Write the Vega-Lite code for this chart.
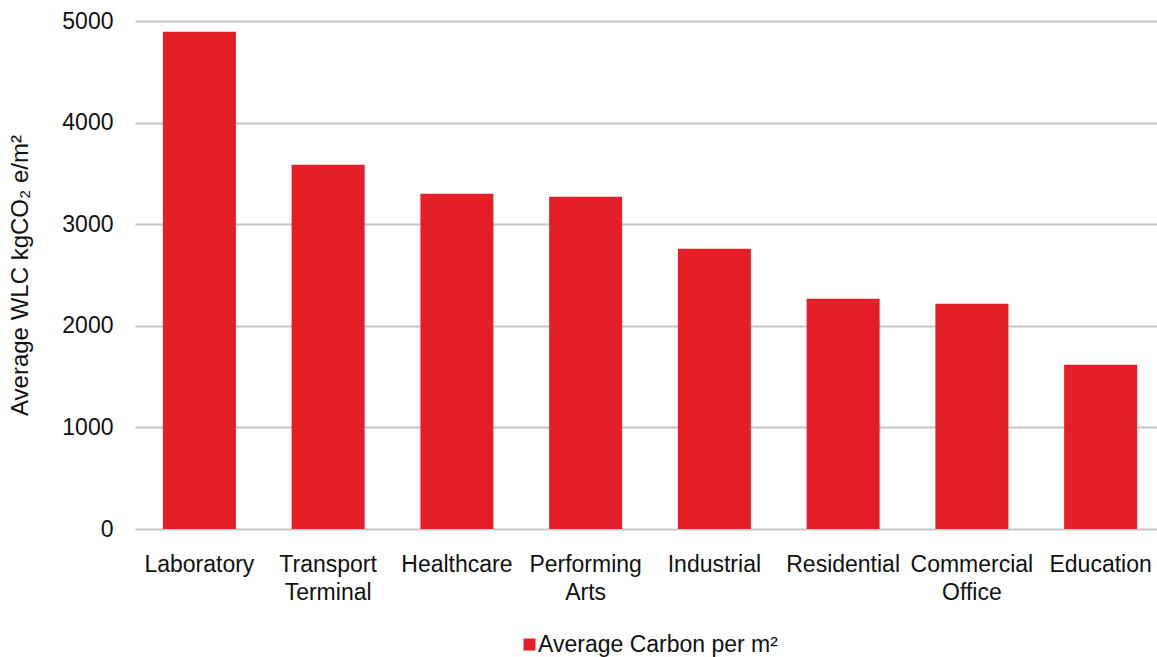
{
  "$schema": "https://vega.github.io/schema/vega-lite/v6.json",
  "width": 1022,
  "height": 508,
  "autosize": {"type": "none"},
  "padding": {"left": 135, "top": 21, "right": 0, "bottom": 128},
  "background": "white",
  "config": {
    "font": "Liberation Sans",
    "view": {"stroke": null}
  },
  "data": {
    "values": [
      {"category": "Laboratory", "value": 4894, "series": "Average Carbon per m²"},
      {"category": "Transport Terminal", "value": 3586, "series": "Average Carbon per m²"},
      {"category": "Healthcare", "value": 3300, "series": "Average Carbon per m²"},
      {"category": "Performing Arts", "value": 3271, "series": "Average Carbon per m²"},
      {"category": "Industrial", "value": 2759, "series": "Average Carbon per m²"},
      {"category": "Residential", "value": 2266, "series": "Average Carbon per m²"},
      {"category": "Commercial Office", "value": 2217, "series": "Average Carbon per m²"},
      {"category": "Education", "value": 1616, "series": "Average Carbon per m²"}
    ]
  },
  "mark": {"type": "bar"},
  "encoding": {
    "x": {
      "field": "category",
      "type": "nominal",
      "sort": null,
      "scale": {"range": [0, 1030], "paddingInner": 0.433, "paddingOuter": 0.2165},
      "axis": {
        "title": null,
        "labelAngle": 0,
        "labelFontSize": 23,
        "labelColor": "#111111",
        "labelPadding": 24,
        "labelLineHeight": 28,
        "labelLimit": 0,
        "labelExpr": "split(datum.label, ' ')",
        "ticks": false,
        "domain": false,
        "grid": false
      }
    },
    "y": {
      "field": "value",
      "type": "quantitative",
      "scale": {"domain": [0, 5000], "nice": false},
      "axis": {
        "title": "Average WLC kgCO₂ e/m²",
        "titleFontSize": 24,
        "titleFontWeight": "normal",
        "titleColor": "#111111",
        "titlePadding": 29,
        "values": [0, 1000, 2000, 3000, 4000, 5000],
        "format": "d",
        "labelFontSize": 23,
        "labelColor": "#111111",
        "labelPadding": 22,
        "ticks": false,
        "domain": false,
        "grid": true,
        "gridColor": "#c4c4c4",
        "gridWidth": 2
      }
    },
    "color": {
      "field": "series",
      "type": "nominal",
      "scale": {"range": ["#E41F28"]},
      "legend": {
        "title": null,
        "orient": "none",
        "legendX": 383,
        "legendY": 612,
        "symbolType": "square",
        "symbolSize": 144,
        "symbolOpacity": 1,
        "symbolStrokeWidth": 0,
        "labelFontSize": 23,
        "labelColor": "#111111",
        "labelOffset": -3,
        "labelLimit": 0
      }
    }
  }
}
